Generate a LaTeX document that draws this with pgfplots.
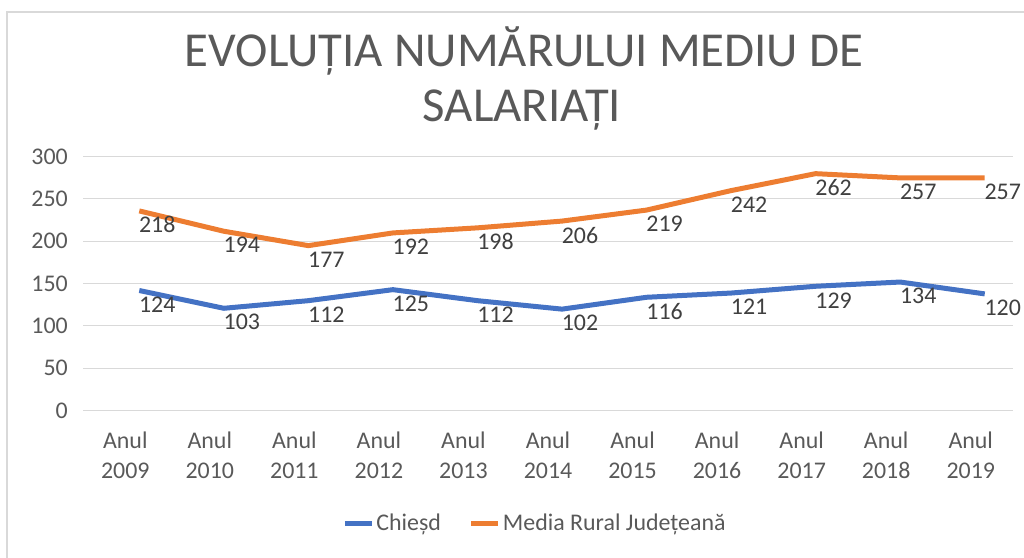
\documentclass[border=0pt]{standalone}
\usepackage{fontspec}
\setmainfont{Carlito}
\usepackage{pgfplots}
\usepackage{pgfplotstable}
\pgfplotsset{compat=1.18}
\definecolor{blueC}{HTML}{4472C4}
\definecolor{orangeC}{HTML}{ED7D31}
\definecolor{gridC}{HTML}{D9D9D9}
\definecolor{textC}{HTML}{595959}
\definecolor{labC}{HTML}{404040}
\pgfplotstableread{
x chiesd media
0 124 218
1 103 194
2 112 177
3 125 192
4 112 198
5 102 206
6 116 219
7 121 242
8 129 262
9 134 257
10 120 257
}\datatable
\begin{document}
\begin{tikzpicture}[x=1bp,y=1bp]
\useasboundingbox (0,0) rectangle (1024,558);
\draw[gridC, line width=1.5bp] (7,0) -- (7,546) -- (1024,546);
\node[anchor=base, text=textC, font=\fontsize{49}{60}\selectfont, inner sep=0pt] at (524,491) {EVOLUȚIA NUMĂRULUI MEDIU DE};
\node[anchor=base, text=textC, font=\fontsize{49}{60}\selectfont, inner sep=0pt] at (522,436) {SALARIAȚI};
\begin{axis}[
  at={(83bp,147.5bp)}, anchor=south west,
  scale only axis, width=930bp, height=254bp,
  xmin=-0.5, xmax=10.5, ymin=0, ymax=300,
  axis line style={draw=none},
  major tick length=0pt,
  ytick={0,50,...,300},
  ymajorgrids, grid style={gridC, line width=1.3bp},
  xtick={0,...,10},
  xticklabels={{Anul\\2009},{Anul\\2010},{Anul\\2011},{Anul\\2012},{Anul\\2013},{Anul\\2014},{Anul\\2015},{Anul\\2016},{Anul\\2017},{Anul\\2018},{Anul\\2019}},
  xticklabel style={align=center, anchor=north, inner sep=0pt, yshift=-21bp, font=\fontsize{24}{30.6}\selectfont, text=textC},
  yticklabel style={anchor=east, inner sep=0pt, xshift=-15bp, font=\fontsize{24}{29}\selectfont, text=textC},
  /pgf/number format/assume math mode=true,
  clip=false,
  legend columns=2,
  legend style={draw=none, fill=none, at={(0.486,-0.443)}, anchor=center,
    font=\fontsize{24}{29}\selectfont, text=textC,
    /tikz/every even column/.append style={column sep=26bp}},
  legend image code/.code={\draw[#1] (0bp,0bp) -- (27bp,0bp);},
  nodes near coords,
  point meta=explicit symbolic,
  nodes near coords style={anchor=center, inner sep=0pt, xshift=18bp, yshift=-14bp, font=\fontsize{24}{29}\selectfont, text=labC},
]
\addplot[blueC, line width=5bp, line join=round, xshift=14bp, yshift=15bp, forget plot] table[x=x, y=chiesd, meta=chiesd] {\datatable};
\addplot[orangeC, line width=5bp, line join=round, xshift=14bp, yshift=15bp, forget plot] table[x=x, y=media, meta=media] {\datatable};
\addlegendimage{blueC, line width=5bp}
\addlegendentry{Chieșd}
\addlegendimage{orangeC, line width=5bp}
\addlegendentry{Media Rural Județeană}
\end{axis}
\end{tikzpicture}
\end{document}
